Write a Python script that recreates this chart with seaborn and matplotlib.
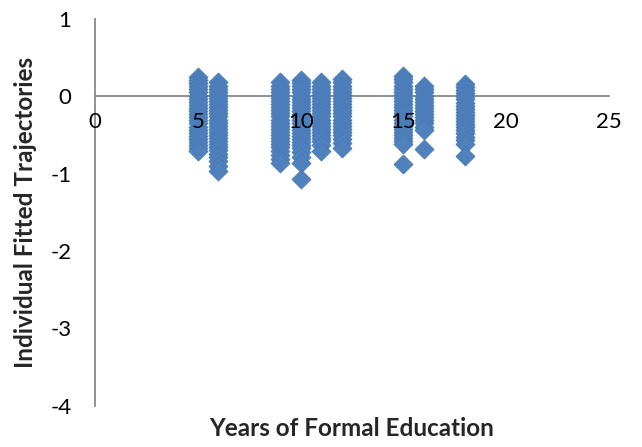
import matplotlib
matplotlib.use("Agg")
import matplotlib.pyplot as plt
import pandas as pd
import seaborn as sns

# Fitted trajectory values for each group, keyed by years of formal education
years_5 = [0.25, 0.21, 0.17, 0.13, 0.09, 0.05, 0.01, -0.03, -0.07, -0.11, -0.15, -0.19, -0.23,
           -0.27, -0.31, -0.35, -0.39, -0.43, -0.47, -0.51, -0.55, -0.59, -0.63, -0.67, -0.71]
years_6 = [0.18, 0.14, 0.10, 0.06, 0.02, -0.02, -0.06, -0.10, -0.14, -0.18, -0.22, -0.26, -0.30,
           -0.34, -0.38, -0.42, -0.46, -0.50, -0.54, -0.58, -0.62, -0.66, -0.70, -0.74, -0.79,
           -0.84, -0.90, -0.97]
years_9 = [0.18, 0.14, 0.10, 0.06, 0.02, -0.02, -0.06, -0.10, -0.14, -0.18, -0.22, -0.26, -0.30,
           -0.34, -0.38, -0.42, -0.46, -0.50, -0.54, -0.58, -0.62, -0.66, -0.71, -0.76, -0.81, -0.86]
years_10 = [0.21, 0.17, 0.13, 0.09, 0.05, 0.01, -0.03, -0.07, -0.11, -0.15, -0.19, -0.23, -0.27,
            -0.31, -0.35, -0.39, -0.43, -0.47, -0.51, -0.55, -0.59, -0.63, -0.67, -0.72, -0.78,
            -0.86, -1.07]
years_11 = [0.18, 0.14, 0.10, 0.06, 0.02, -0.02, -0.06, -0.10, -0.14, -0.18, -0.22, -0.26, -0.30,
            -0.34, -0.38, -0.42, -0.46, -0.50, -0.54, -0.58, -0.63, -0.71]
years_12 = [0.22, 0.18, 0.14, 0.10, 0.06, 0.02, -0.02, -0.06, -0.10, -0.14, -0.18, -0.22, -0.26,
            -0.30, -0.34, -0.38, -0.42, -0.46, -0.50, -0.55, -0.60, -0.67]
years_15 = [0.26, 0.22, 0.18, 0.14, 0.10, 0.06, 0.02, -0.02, -0.06, -0.10, -0.14, -0.18, -0.22,
            -0.26, -0.30, -0.34, -0.38, -0.42, -0.46, -0.50, -0.54, -0.58, -0.62, -0.88]
years_16 = [0.13, 0.09, 0.05, 0.01, -0.03, -0.07, -0.11, -0.15, -0.19, -0.23, -0.27, -0.31,
            -0.35, -0.39, -0.44, -0.68]
years_18 = [0.16, 0.12, 0.08, 0.04, 0.00, -0.04, -0.08, -0.12, -0.16, -0.20, -0.24, -0.28, -0.32,
            -0.36, -0.40, -0.44, -0.48, -0.52, -0.57, -0.62, -0.77]

education = [5, 6, 9, 10, 11, 12, 15, 16, 18]
fitted = [years_5, years_6, years_9, years_10, years_11, years_12, years_15, years_16, years_18]

x_ticks = [0, 5, 10, 15, 20, 25]
y_ticks = [1, 0, -1, -2, -3, -4]

rows = [(e, v) for e, vals in zip(education, fitted) for v in vals]
df = pd.DataFrame(rows, columns=["Years of Formal Education", "Individual Fitted Trajectories"])

sns.set_theme(style="white")
plt.rcParams["font.family"] = ["Lato", "DejaVu Sans"]

W, H = 642, 447
fig = plt.figure(figsize=(W / 100, H / 100), dpi=100)
ax = fig.add_axes([95 / W, (H - 405.7) / H, (609 - 95) / W, (405.7 - 19) / H])

sns.scatterplot(
    data=df, x="Years of Formal Education", y="Individual Fitted Trajectories",
    marker="D", s=95, color="#4F81BD", edgecolor="#4677B4", linewidth=0.5,
    ax=ax, legend=False, clip_on=False, zorder=3,
)

ax.set_xlim(0, 25)
ax.set_ylim(-4, 1)
ax.set_xticks(x_ticks)
ax.set_yticks(y_ticks)
ax.set_xticklabels([str(t) for t in x_ticks])
ax.set_yticklabels([str(t) for t in y_ticks])
ax.set_xlabel("")
ax.set_ylabel("")

axis_grey = "#898989"
for side in ("top", "right"):
    ax.spines[side].set_visible(False)
ax.spines["bottom"].set_position(("data", 0))
for side in ("left", "bottom"):
    ax.spines[side].set_color(axis_grey)
    ax.spines[side].set_linewidth(1.3)
    ax.spines[side].set_zorder(2)

ax.tick_params(axis="both", direction="out", length=6, width=1.3, color=axis_grey,
               labelsize=16, labelcolor="black")
ax.tick_params(axis="x", pad=5)
ax.tick_params(axis="y", pad=11)

# x tick labels sit on top of the markers; hide tick marks that fall inside data columns
ax.xaxis.set_zorder(5)
for tick in ax.xaxis.get_major_ticks():
    if tick.get_loc() in (5, 10, 15):
        tick.tick1line.set_visible(False)

fig.text(352 / W, (H - 429) / H, "Years of Formal Education", ha="center", va="center",
         fontsize=17.5, fontweight="bold")
fig.text(26 / W, (H - 212) / H, "Individual Fitted Trajectories", ha="center", va="center",
         rotation=90, fontsize=17.5, fontweight="bold")

fig.savefig("out.png", dpi=100)
